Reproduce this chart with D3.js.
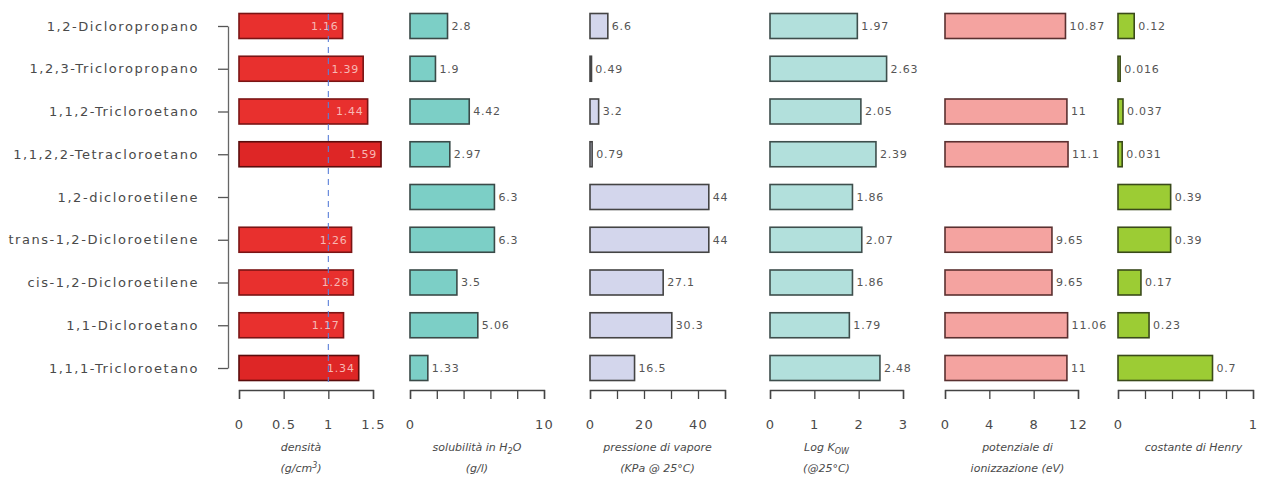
<!DOCTYPE html>
<html><head><meta charset="utf-8">
<script src="https://cdn.jsdelivr.net/npm/d3@7"></script>
<style>body{margin:0;background:#fff}svg{display:block;font-family:"DejaVu Sans",sans-serif}</style>
</head><body><svg id="c" width="1276" height="482"></svg>
<script>
const categories = ["1,2-Dicloropropano","1,2,3-Tricloropropano","1,1,2-Tricloroetano","1,1,2,2-Tetracloroetano","1,2-dicloroetilene","trans-1,2-Dicloroetilene","cis-1,2-Dicloroetilene","1,1-Dicloroetano","1,1,1-Tricloroetano"];
const densita = [1.16,1.39,1.44,1.59,null,1.26,1.28,1.17,1.34];
const solubilita = [2.8,1.9,4.42,2.97,6.3,6.3,3.5,5.06,1.33];
const pressione = [6.6,0.49,3.2,0.79,44,44,27.1,30.3,16.5];
const logKow = [1.97,2.63,2.05,2.39,1.86,2.07,1.86,1.79,2.48];
const ionizzazione = [10.87,null,11,11.1,null,9.65,9.65,11.06,11];
const henry = [0.12,0.016,0.037,0.031,0.39,0.39,0.17,0.23,0.7];
const densitaLabels = ["1.16","1.39","1.44","1.59","","1.26","1.28","1.17","1.34"];
const solubilitaLabels = ["2.8","1.9","4.42","2.97","6.3","6.3","3.5","5.06","1.33"];
const pressioneLabels = ["6.6","0.49","3.2","0.79","44","44","27.1","30.3","16.5"];
const logKowLabels = ["1.97","2.63","2.05","2.39","1.86","2.07","1.86","1.79","2.48"];
const ionizzazioneLabels = ["10.87","","11","11.1","","9.65","9.65","11.06","11"];
const henryLabels = ["0.12","0.016","0.037","0.031","0.39","0.39","0.17","0.23","0.7"];
const densitaTicks = [0,0.5,1,1.5], densitaTickLabels = ["0","0.5","1","1.5"];
const solubilitaTicks = [0,2,4,6,8,10], solubilitaTickLabels = ["0","","","","","10"];
const pressioneTicks = [0,10,20,30,40,50], pressioneTickLabels = ["0","","20","","40",""];
const logKowTicks = [0,1,2,3], logKowTickLabels = ["0","1","2","3"];
const ionizzazioneTicks = [0,4,8,12], ionizzazioneTickLabels = ["0","4","8","12"];
const henryTicks = [0,0.2,0.4,0.6,0.8,1], henryTickLabels = ["0","","","","","1"];

const svg = d3.select("#c");
const y = d3.scalePoint().domain(categories).range([26,368]);
const barH = 25;
const axisY = 390;
const textCol = "#4a4a4a";

// category axis
const ya = svg.append("g").attr("transform","translate(228,0)")
  .call(d3.axisLeft(y).tickSize(10).tickSizeOuter(0).tickPadding(19));
ya.select(".domain").attr("stroke","#666").attr("stroke-width",1.3);
ya.selectAll(".tick line").attr("stroke","#555").attr("stroke-width",1.3);
ya.selectAll(".tick text").attr("fill",textCol).style("font-size","13px").style("letter-spacing","1.55px")
  .style("font-family","'DejaVu Sans',sans-serif");

const panels = [
 {vals:densita, labs:densitaLabels, max:1.5, r:[239,373], ticks:densitaTicks, tl:densitaTickLabels, fill:"#e8302e", stroke:"#7a1414", inside:true,
  title:[[["densità",""]],[["(g/cm",""],["3","sup"],[")",""]]]},
 {vals:solubilita, labs:solubilitaLabels, max:10, r:[410,544], ticks:solubilitaTicks, tl:solubilitaTickLabels, fill:"#7ccfc6", stroke:"#3a4a48",
  title:[[["solubilità in H",""],["2","sub"],["O",""]],[["(g/l)",""]]]},
 {vals:pressione, labs:pressioneLabels, max:50, r:[590,725], ticks:pressioneTicks, tl:pressioneTickLabels, fill:"#d3d6ec", stroke:"#444",
  title:[[["pressione di vapore",""]],[["(KPa @ 25°C)",""]]]},
 {vals:logKow, labs:logKowLabels, max:3, r:[770,903], ticks:logKowTicks, tl:logKowTickLabels, fill:"#b2e0dc", stroke:"#3e4e4c",
  title:[[["Log K",""],["OW","sub"]],[["(@25°C)",""]]]},
 {vals:ionizzazione, labs:ionizzazioneLabels, max:12, r:[945,1078], ticks:ionizzazioneTicks, tl:ionizzazioneTickLabels, fill:"#f4a3a0", stroke:"#5a3030",
  title:[[["potenziale di",""]],[["ionizzazione (eV)",""]]]},
 {vals:henry, labs:henryLabels, max:1, r:[1118,1253], ticks:henryTicks, tl:henryTickLabels, fill:"#9ccc34", stroke:"#3a4a1a",
  title:[[["costante di Henry",""]]]}
];

panels.forEach((p,pi)=>{
  const x = d3.scaleLinear().domain([0,p.max]).range(p.r);
  const g = svg.append("g");
  const data = categories.map((c,i)=>({c, v:p.vals[i], l:p.labs[i]})).filter(d=>d.v!=null);
  if (pi===0) {
    svg.append("line").attr("x1",x(1)).attr("x2",x(1)).attr("y1",14).attr("y2",382)
      .attr("stroke","#5a7fd8").attr("stroke-width",1.1).attr("stroke-dasharray","6,5");
  }
  g.selectAll("rect").data(data).join("rect")
    .attr("x",x(0)).attr("y",d=>y(d.c)-barH/2).attr("width",d=>Math.max(x(d.v)-x(0),1.5)).attr("height",barH)
    .attr("fill",p.fill).attr("stroke",p.stroke).attr("stroke-width",1.6);
  if (pi===0) {
    g.selectAll("rect").filter(d=>d.c==="1,1,2,2-Tetracloroetano"||d.c==="1,1,1-Tricloroetano").attr("fill","#de2626").attr("stroke","#5a0c0c");
  }
  g.selectAll("text.v").data(data).join("text").attr("class","v")
    .attr("x",d=>p.inside? x(d.v)-4 : x(d.v)+4)
    .attr("y",d=>y(d.c)).attr("dy","0.35em")
    .attr("text-anchor",p.inside?"end":"start")
    .attr("fill",p.inside?"#f7b8b4":"#555").style("font-size","11px").style("letter-spacing","0.8px").text(d=>d.l);
  const ax = svg.append("g").attr("transform",`translate(0,${axisY})`)
    .call(d3.axisBottom(x).tickValues(p.ticks).tickSize(9).tickSizeOuter(9).tickPadding(21)
      .tickFormat((d,i)=>p.tl[i]));
  ax.select(".domain").attr("stroke","#444").attr("stroke-width",1.4);
  ax.selectAll(".tick line").attr("stroke","#444").attr("stroke-width",1.3);
  ax.selectAll(".tick text").attr("fill",textCol).style("font-size","13px").style("letter-spacing","1.2px")
    .style("font-family","'DejaVu Sans',sans-serif");
  const cx = (p.r[0]+p.r[1])/2 + (pi===3?-10:0) + (pi===4?6:0) + (pi===5?8:0) + (pi===0?-5:0);
  p.title.forEach((line,li)=>{
    const t = svg.append("text").attr("x",cx).attr("y",451+li*21).attr("text-anchor","middle")
      .attr("fill",textCol).style("font-size","11px").style("font-style","italic");
    let shift = 0;
    line.forEach(([s,kind])=>{
      const ts = t.append("tspan").text(s);
      if (kind==="sub") { ts.attr("dy",3).style("font-size","8px"); shift += 3; }
      else if (kind==="sup") { ts.attr("dy",-4).style("font-size","8px"); shift -= 4; }
      else if (shift!==0) { ts.attr("dy",-shift); shift = 0; }
    });
  });
});
</script></body></html>
